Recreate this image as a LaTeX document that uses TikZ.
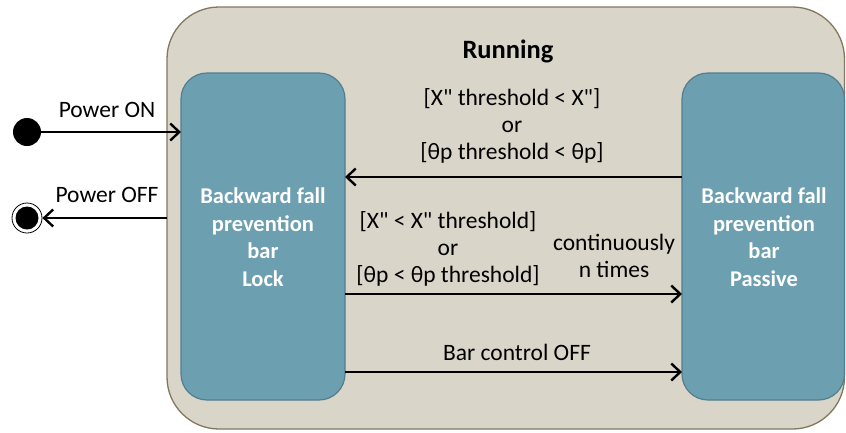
\documentclass[tikz,border=0pt]{standalone}
\usepackage{fontspec}
\setmainfont{Carlito}[Ligatures=TeXOff]
\usetikzlibrary{arrows.meta}
\definecolor{outerfill}{RGB}{217,213,201}
\definecolor{outerdraw}{RGB}{130,120,95}
\definecolor{innerfill}{RGB}{108,159,176}
\definecolor{innerdraw}{RGB}{82,126,145}
\tikzset{
  statebox/.style={draw=innerdraw, line width=1.2pt, fill=innerfill, rounded corners=26pt},
  statetext/.style={text=white, font=\fontsize{22.5}{27.5}\selectfont\bfseries, align=center},
  lbl/.style={font=\fontsize{23.5}{27}\selectfont, align=center, text=black},
  trans/.style={line width=2.4pt, -{Straight Barb[length=9pt,width=17pt,line width=2.4pt]}},
}
\begin{document}
\begin{tikzpicture}[x=1pt,y=-1pt]
\useasboundingbox (0,0) rectangle (846,432);
% outer state
\draw[fill=outerfill, draw=outerdraw, line width=1.3pt, rounded corners=52pt] (167,7) rectangle (844.5,429);
\node[font=\fontsize{26.5}{30}\selectfont\bfseries] (run) at (508,51) {Running};
% inner states
\draw[statebox] (181,73) rectangle (345,400);
\draw[statebox] (682,73) rectangle (844.5,400);
\node[statetext] (lock) at (263,237) {Backward fall\\prevention\\bar\\Lock};
\node[statetext] (pass) at (764,237) {Backward fall\\prevention\\bar\\Passive};
% anchors on box edges
\coordinate (lockIn) at (181,132);
\coordinate (outerL) at (167,218);
\coordinate (lockR1) at (345,177);
\coordinate (passL1) at (682,177);
\coordinate (lockR2) at (345,294);
\coordinate (passL2) at (682,294);
\coordinate (lockR3) at (345,372);
\coordinate (passL3) at (682,372);
% initial and final
\node[circle, fill=black, minimum size=28pt, inner sep=0pt] (init) at (27,132) {};
\node[circle, draw=black, line width=0.8pt, minimum size=30pt, inner sep=0pt] (fin) at (27,218) {};
\node[circle, fill=black, minimum size=23pt, inner sep=0pt] (fininner) at (27,218) {};
\draw[trans] (init) -- (lockIn);
\draw[trans] (outerL) -- (fin);
\node[lbl] (pon) at (107,110) {Power ON};
\node[lbl] (poff) at (107,195) {Power OFF};
% transitions
\draw[trans] (passL1) -- (lockR1);
\draw[trans] (lockR2) -- (passL2);
\draw[trans] (lockR3) -- (passL3);
\node[lbl] (c1) at (512,126) {[X" threshold < X"]\\or\\{[}θp threshold < θp]};
\node[lbl] (c2) at (448,249) {[X" < X" threshold]\\or\\{[}θp < θp threshold]};
\node[lbl] (c3) at (614,256) {continuously\\n times};
\node[lbl] (c4) at (517,352) {Bar control OFF};
\end{tikzpicture}
\end{document}
